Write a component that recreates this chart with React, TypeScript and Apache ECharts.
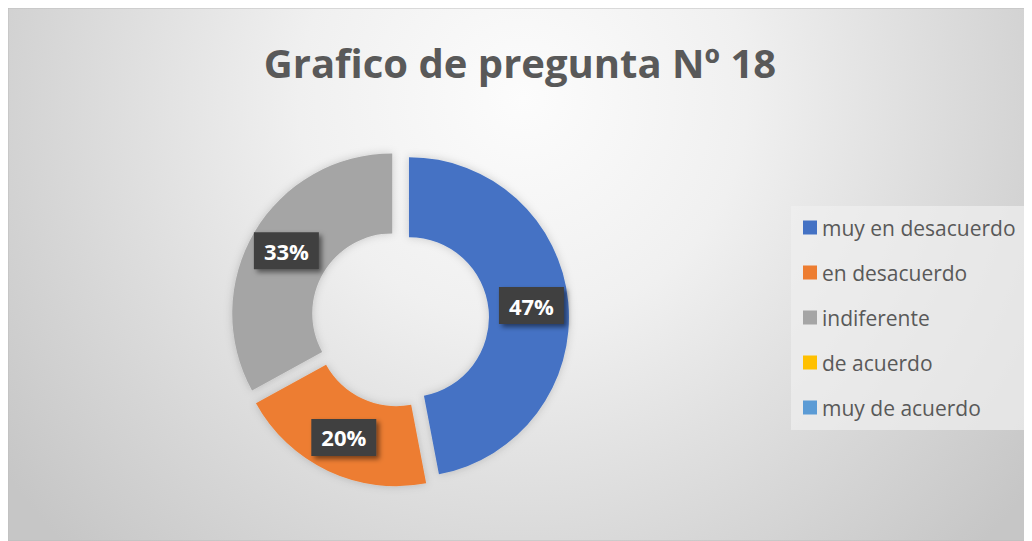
import React, { useEffect, useRef } from "react";
import * as echarts from "echarts";

const titleText = "Grafico de pregunta Nº 18";
const categories = ["muy en desacuerdo", "en desacuerdo", "indiferente", "de acuerdo", "muy de acuerdo"];
const values = [47, 20, 33, 0, 0];
const colors = ["#4472C4", "#ED7D31", "#A5A5A5", "#FFC000", "#5B9BD5"];

export default function App() {
  const ref = useRef<HTMLDivElement>(null);
  useEffect(() => {
    if (!ref.current) return;
    const chart = echarts.init(ref.current, undefined, { renderer: "svg" });
    const W = 1024;
    const H = 533;
    chart.setOption({
      animation: false,
      color: colors,
      graphic: [
        {
          type: "rect",
          z: -10,
          silent: true,
          shape: { x: 0, y: 0, width: W, height: H },
          style: {
            fill: new echarts.graphic.RadialGradient(515, 90, 640, [
              { offset: 0, color: "#fcfcfc" },
              { offset: 0.35, color: "#f0f0f0" },
              { offset: 0.75, color: "#d6d6d6" },
              { offset: 1, color: "#c6c6c6" },
            ], true),
            stroke: "#bdbdbd",
            lineWidth: 1,
          },
        },
        {
          type: "rect",
          z: -5,
          silent: true,
          shape: { x: 783, y: 198, width: 235, height: 224 },
          style: { fill: "rgba(240,240,240,0.7)" },
        },
      ],
      title: {
        text: titleText,
        left: "center",
        top: 29,
        textStyle: {
          fontFamily: "Open Sans",
          fontWeight: "bold",
          fontSize: 40,
          color: "#595959",
        },
      },
      legend: {
        orient: "vertical",
        left: 795,
        top: 209,
        padding: 0,
        itemWidth: 14,
        itemHeight: 14,
        itemGap: 24,
        icon: "rect",
        data: categories,
        textStyle: {
          fontFamily: "Open Sans",
          fontSize: 21,
          color: "#595959",
          lineHeight: 20,
        },
      },
      series: [
        {
          type: "pie",
          center: [392, 310],
          radius: [80, 160],
          startAngle: 90,
          clockwise: true,
          selectedMode: "multiple",
          selectedOffset: 9,
          percentPrecision: 0,
          emphasis: { disabled: true },
          itemStyle: {
            shadowBlur: 8,
            shadowColor: "rgba(0,0,0,0.18)",
          },
          label: {
            show: true,
            position: "inside",
            formatter: "{d}%",
            fontFamily: "Open Sans",
            fontWeight: "bold",
            fontSize: 22,
            color: "#ffffff",
            backgroundColor: "#404040",
            padding: [8, 10, 7, 10],
            shadowColor: "rgba(0,0,0,0.5)",
            shadowBlur: 5,
            shadowOffsetX: 3,
            shadowOffsetY: 3,
          },
          labelLine: { show: false },
          data: categories.map((name, i) => ({
            name,
            value: values[i],
            selected: true,
            label: values[i] === 0 ? { show: false } : undefined,
          })),
        },
      ],
    });
    return () => chart.dispose();
  }, []);
  return <div ref={ref} style={{ width: 1024, height: 533 }} />;
}
